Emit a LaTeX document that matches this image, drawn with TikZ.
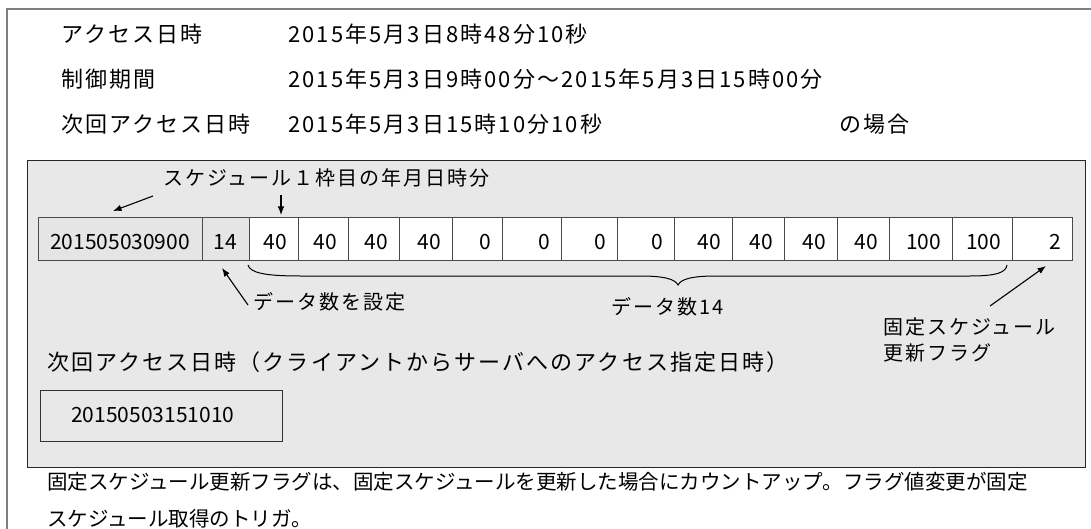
\documentclass[tikz,border=0pt]{standalone}
\usepackage{fontspec}
\usetikzlibrary{arrows.meta,calc}
\newfontfamily\jpls[LetterSpace=9.5]{Noto Sans CJK JP}
\newfontfamily\jpsm[LetterSpace=10]{Noto Sans CJK JP}
\newfontfamily\jpn{Noto Sans CJK JP}
\definecolor{boxgray}{HTML}{E8E8E8}
\definecolor{cellgray}{HTML}{E5E5E5}
\definecolor{framegray}{HTML}{7F7F7F}
\definecolor{celledge}{HTML}{4A4A4A}
\begin{document}
\begin{tikzpicture}[x=1pt,y=-1pt,
  hdr/.style={anchor=base west,inner sep=0pt,font=\jpls\fontsize{22}{26}\selectfont},
  lbl/.style={anchor=base west,inner sep=0pt,font=\jpsm\fontsize{20}{24}\selectfont},
  note/.style={anchor=base west,inner sep=0pt,font=\jpn\fontsize{20.5}{24}\selectfont},
  cellbase/.style={draw=celledge,line width=0.9pt,minimum height=43pt,inner ysep=0pt,
    text height=21pt,text depth=0pt,font=\jpn\fontsize{21}{24}\selectfont},
  cellhead/.style={cellbase,fill=cellgray,inner xsep=0pt},
  celldata/.style={cellbase,fill=white,inner xsep=11pt,align=right},
  ptr/.style={-{Latex[length=8.5pt,width=6.5pt]},line width=1.1pt,black},
]
\useasboundingbox (0,0) rectangle (1091,529);
\fill[white] (0,0) rectangle (1091,529);
% outer frame
\draw[framegray,line width=1.7pt] (7,529) -- (7,9) -- (1091,9);

% header
\node[hdr] (h1) at (61,43) {アクセス日時};
\node[hdr] (v1) at (288,43) {2015年5月3日8時48分10秒};
\node[hdr] (h2) at (61,88) {制御期間};
\node[hdr] (v2) at (288,88) {2015年5月3日9時00分～2015年5月3日15時00分};
\node[hdr] (h3) at (61,133) {次回アクセス日時};
\node[hdr] (v3) at (288,133) {2015年5月3日15時10分10秒};
\node[hdr] (case) at (839,133) {の場合};

% gray panel
\node[draw=black!85,fill=boxgray,line width=1pt,minimum width=1058pt,minimum height=307pt,
  inner sep=0pt,anchor=north west] (panel) at (27,160) {};

% cells
\node[cellhead,minimum width=164pt] (c1) at (120,238.5) {201505030900};
\node[cellhead,minimum width=47pt] (c2) at (225.5,238.5) {14};
\foreach \l/\r/\t/\i in {249/298/40/3,298/348/40/4,348/399/40/5,399/452/40/6,
  452/502/0/7,502/561/0/8,561/617/0/9,617/674/0/10,
  674/732/40/11,732/784/40/12,784/837/40/13,837/889/40/14,
  889/952/100/15,952/1012/100/16,1012/1072/2/17}{
  \node[celldata,minimum width={(\r-\l)*1pt},text width={(\r-\l-22)*1pt}] (c\i) at ({(\l+\r)/2},238.5) {\t};
}

% labels in panel
\node[lbl] (first) at (163,185.4) {スケジュール１枠目の年月日時分};
\coordinate (a1s) at (153,196);
\coordinate (a1e) at (113,211);
\draw[ptr] (a1s) -- (a1e);
\coordinate (a2s) at (281,195);
\coordinate (a2e) at (281,215);
\draw[ptr] (a2s) -- (a2e);

\node[lbl] (setn) at (253,309) {データ数を設定};
\coordinate (a3s) at (248,305);
\coordinate (a3e) at (222,268);
\draw[ptr] (a3s) -- (a3e);

% brace
\coordinate (bl) at (248,265);
\coordinate (bt) at (678,285);
\coordinate (br) at (1007,265);
\draw[line width=1pt] (bl) .. controls (250,273) and (266,276) .. (300,276)
  -- (640,276) .. controls (664,276) and (675,279) .. (bt)
  .. controls (681,279) and (692,276) .. (716,276)
  -- (970,276) .. controls (998,276) and (1006,272) .. (br);
\node[lbl] (cnt) at (611,314) {データ数14};

% flag label
\node[lbl] (flag1) at (883,334) {固定スケジュール};
\node[lbl] (flag2) at (883,360) {更新フラグ};
\coordinate (a4s) at (990,306);
\coordinate (a4e) at (1046,266);
\draw[ptr] (a4s) -- (a4e);

% next access
\node[hdr] (nxt) at (47,370.7) {次回アクセス日時（クライアントからサーバへのアクセス指定日時）};
\node[draw=black!80,line width=1pt,fill=boxgray,minimum width=242pt,minimum height=51pt,
  inner sep=0pt,anchor=north west] (nbox) at (40,390) {};
\node[anchor=base west,inner sep=0pt,font=\jpn\fontsize{21}{24}\selectfont] (nval) at (71,422.7) {20150503151010};

% bottom note
\node[note] (n1) at (47,489.8) {固定スケジュール更新フラグは、固定スケジュールを更新した場合にカウントアップ。フラグ値変更が固定};
\node[note] (n2) at (47,526.2) {スケジュール取得のトリガ。};
\end{tikzpicture}
\end{document}
